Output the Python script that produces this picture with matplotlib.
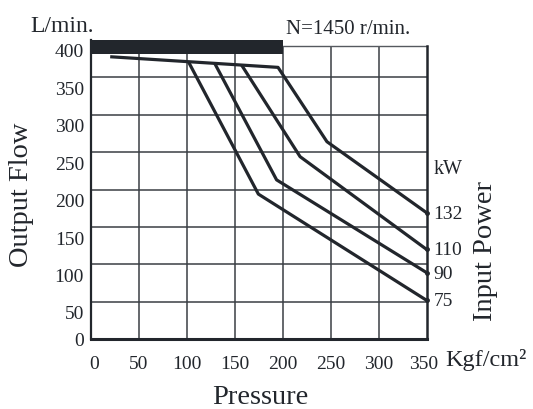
import matplotlib
matplotlib.use("Agg")
import matplotlib.pyplot as plt
import matplotlib.transforms as mtransforms

plt.rcParams['font.family'] = ['Liberation Serif', 'DejaVu Serif']

# pressure (Kgf/cm2) vs output flow (L/min) for each input power curve
kw_labels = ["132", "110", "90", "75"]
p_132 = [20, 195, 246, 350]
q_132 = [377.5, 363.3, 264, 169]
p_110 = [157, 218, 350]
q_110 = [366.4, 244, 120]
p_90 = [129, 193.5, 350]
q_90 = [368.6, 213, 89]
p_75 = [101.5, 174.5, 350]
q_75 = [371, 194, 52]

x_ticks = [0, 50, 100, 150, 200, 250, 300, 350]
y_ticks = [0, 50, 100, 150, 200, 250, 300, 350, 400]
frame_top = 392

ink = '#22262c'

fig = plt.figure(figsize=(5.33, 4.09), dpi=100)
ax = fig.add_axes([91 / 533, 1 - 339.3 / 409, (426.7 - 91) / 533, (339.3 - 39.9) / 409])
ax.set_xlim(0, 350)
ax.set_ylim(0, 400)

ax.set_xticks(x_ticks)
ax.set_yticks(y_ticks)
# grid stops at the thin frame line, not at the axes top
ax.vlines(x_ticks[1:-1], 0, frame_top, color='#3a3e44', linewidth=1.1, zorder=1)
ax.hlines([v for v in y_ticks[1:] if v < frame_top], 0, 350, color='#3a3e44',
          linewidth=1.1, zorder=1)
ax.tick_params(length=0, labelsize=14, colors=ink)
ax.tick_params(axis='y', pad=5)
ax.tick_params(axis='x', pad=12)

# y labels sit a little below their grid lines in the original
for lab in ax.get_yticklabels()[1:]:
    lab.set_transform(lab.get_transform() +
                      mtransforms.ScaledTranslation(0, -11 / 100, fig.dpi_scale_trans))
xl = ax.get_xticklabels()
xl[0].set_transform(xl[0].get_transform() +
                    mtransforms.ScaledTranslation(3 / 100, 0, fig.dpi_scale_trans))
xl[-1].set_transform(xl[-1].get_transform() +
                     mtransforms.ScaledTranslation(-3 / 100, 0, fig.dpi_scale_trans))

for s in ax.spines.values():
    s.set_color(ink)
ax.spines['top'].set_visible(False)
ax.spines['left'].set_linewidth(1.6)
ax.spines['bottom'].set_linewidth(2.2)
ax.spines['right'].set_linewidth(1.8)
ax.spines['right'].set_bounds(0, frame_top)

# thin top frame line and black header bar
ax.plot([200, 350], [frame_top, frame_top], color='#55595f', linewidth=1.0, clip_on=False)
ax.fill_between([0, 200], 381, 400, color=ink, zorder=4, clip_on=False, linewidth=0)

for px, qy, lab in zip([p_132, p_110, p_90, p_75], [q_132, q_110, q_90, q_75], kw_labels):
    ax.plot(px, qy, color=ink, linewidth=2.3, solid_capstyle='butt', zorder=5,
            marker='o', markersize=2.5, markevery=[len(px) - 1], clip_on=False)
    ax.annotate(lab, (px[-1], qy[-1]), xytext=(5, -1), textcoords='offset points',
                ha='left', va='center', fontsize=14, color=ink)

fig.text(30 / 533, 1 - 27 / 409, "L/min.", fontsize=17, color=ink, ha='left', va='center')
fig.text(286 / 533, 1 - 30 / 409, "N=1450 r/min.", fontsize=15, color=ink, ha='left', va='center')
fig.text(434 / 533, 1 - 170 / 409, "kW", fontsize=14.5, color=ink, ha='left', va='center')
fig.text(445 / 533, 1 - 360 / 409, "Kgf/cm²", fontsize=17.5, color=ink, ha='left', va='center')
fig.text(260.5 / 533, 1 - 398 / 409, "Pressure", fontsize=20.5, color=ink, ha='center', va='center')
fig.text(21.7 / 533, 1 - 195 / 409, "Output Flow", fontsize=20.5, color=ink,
         ha='center', va='center', rotation=90)
fig.text(485 / 533, 1 - 251 / 409, "Input Power", fontsize=20.5, color=ink,
         ha='center', va='center', rotation=90)

fig.savefig("out.png", dpi=100)
